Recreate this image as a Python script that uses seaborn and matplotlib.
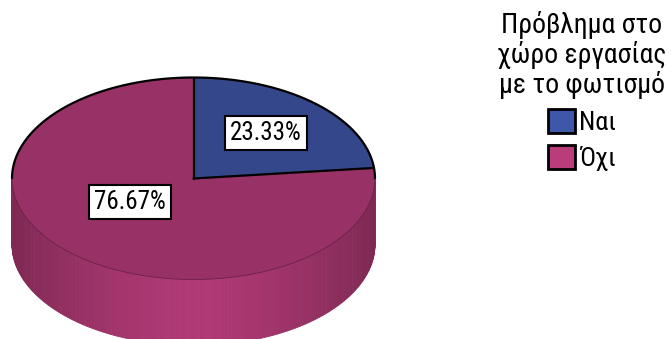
import numpy as np
import matplotlib
matplotlib.use("Agg")
import matplotlib.pyplot as plt
from matplotlib.patches import Polygon, Patch
import seaborn as sns

# Answer categories and their shares (%)
categories = ["Ναι", "Όχι"]
percentages = [23.33, 76.67]
legend_title = "Πρόβλημα στο\nχώρο εργασίας\nμε το φωτισμό"
base_colors = ["#3F57A8", "#B93C7B"]

sns.set_style("white")
plt.rcParams["font.family"] = ["Roboto Condensed", "DejaVu Sans"]
plt.rcParams["text.color"] = "black"

W, H = 671, 339
fig = plt.figure(figsize=(W / 100, H / 100), dpi=100)
ax = fig.add_axes([0, 0, 1, 1])
ax.set_xlim(0, W)
ax.set_ylim(H, 0)
ax.axis("off")

# Cylinder geometry (pixel units of the canvas)
cx, cy, rx, ry, depth = 193.5, 178.5, 181.5, 101.0, 66.0


def rim(theta_deg, drop=0.0):
    t = np.radians(theta_deg)
    return np.column_stack([cx + rx * np.cos(t), cy - ry * np.sin(t) + drop])


palette = sns.color_palette(base_colors)


def shade(c, f):
    return tuple(np.clip(np.array(c) * f, 0, 1))


fracs = np.array(percentages) / sum(percentages)
starts = 90 - 360 * np.concatenate([[0], np.cumsum(fracs)[:-1]])
ends = starts - 360 * fracs

# Side wall: only the front half is visible
step = 1.0
for s, e, col in zip(starts, ends, palette):
    a = e
    while a < s:
        b = min(a + step, s)
        mid = np.radians((a + b) / 2)
        if np.sin(mid) < 0:
            f = 0.68 + 0.27 * (1 - abs(np.cos(mid)) ** 1.5)
            top = rim(np.array([a, b]))
            bot = rim(np.array([b, a]), depth)
            c = shade(col, f)
            ax.add_patch(Polygon(np.vstack([top, bot]), closed=True,
                                 facecolor=c, edgecolor=c, lw=0.6, zorder=1))
        a = b

# Top face wedges
for s, e, col in zip(starts, ends, palette):
    th = np.linspace(s, e, 200)
    pts = np.vstack([[cx, cy], rim(th)])
    ax.add_patch(Polygon(pts, closed=True, facecolor=shade(col, 0.82),
                         edgecolor="none", zorder=2))

# Outlines
back = rim(np.linspace(0, 180, 300))
ax.plot(back[:, 0], back[:, 1], color="black", lw=1.6, zorder=3)
front = rim(np.linspace(180, 360, 300))
ax.plot(front[:, 0], front[:, 1], color="#6a2045", lw=0.6, zorder=3)
for s in starts:
    p = rim(np.array([s]))[0]
    ax.plot([cx, p[0]], [cy, p[1]], color="black", lw=1.6, zorder=3)

# Percentage labels (offsets relative to the pie centre, in radius units)
label_offsets = [(0.40, -0.446), (-0.35, 0.228)]
for pct, (ox, oy) in zip(percentages, label_offsets):
    ax.text(cx + ox * rx, cy + oy * ry, f"{pct:.2f}%", fontsize=18,
            ha="center", va="center", zorder=5, color="black",
            bbox=dict(boxstyle="square,pad=0.2", fc="white", ec="black", lw=1.5))

handles = [Patch(facecolor=c, edgecolor="black", linewidth=2) for c in palette]
leg = fig.legend(handles, categories, title=legend_title, loc="upper center",
                 bbox_to_anchor=(582 / W, 1 - 11 / H), frameon=False,
                 fontsize=19, title_fontsize=20, handlelength=1.0,
                 handleheight=1.0, handletextpad=0.15, labelspacing=0.4,
                 borderpad=0, borderaxespad=0)
title = leg.get_title()
title.set_multialignment("center")
title.set_linespacing(1.08)
title.set_color("black")
for t in leg.get_texts():
    t.set_color("black")

fig.savefig("out.png", dpi=100)
